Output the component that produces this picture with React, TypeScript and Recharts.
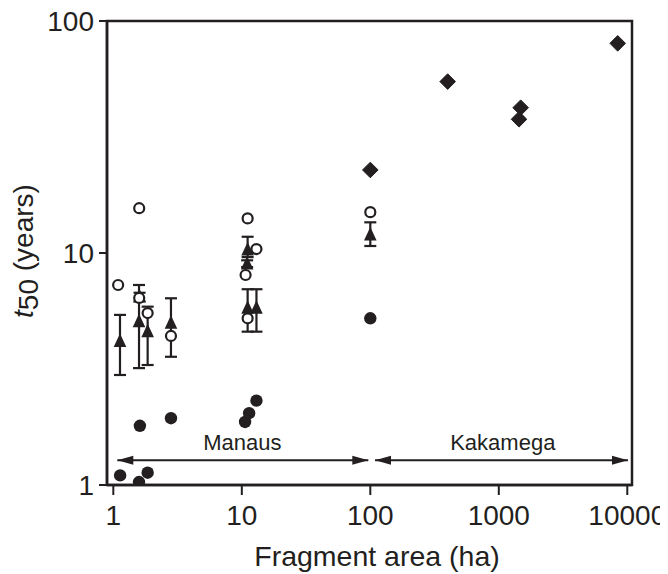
import React from 'react';
import { ScatterChart, Scatter, XAxis, YAxis, ErrorBar, ReferenceArea } from 'recharts';

const INK = '#231f20';
const FONT = '"Liberation Sans", Arial, Helvetica, sans-serif';

const xTicks = [1, 10, 100, 1000, 10000];
const yTicks = [1, 10, 100];
const xDomain = [0.893, 10880];
const yDomain = [1, 100];

// Open circles (x = fragment area ha, y = t50 years)
const openCircles = [
  { x: 1.09, y: 7.28 },
  { x: 1.59, y: 15.6 },
  { x: 1.59, y: 6.4 },
  { x: 1.85, y: 5.51 },
  { x: 2.81, y: 4.39 },
  { x: 11.1, y: 14.1 },
  { x: 13.0, y: 10.4 },
  { x: 10.7, y: 8.04 },
  { x: 11.1, y: 5.23 },
  { x: 100, y: 15.0 },
];

// Filled circles
const filledCircles = [
  { x: 1.13, y: 1.1 },
  { x: 1.585, y: 1.03 },
  { x: 1.85, y: 1.13 },
  { x: 1.61, y: 1.8 },
  { x: 2.81, y: 1.94 },
  { x: 10.6, y: 1.87 },
  { x: 11.4, y: 2.04 },
  { x: 13.0, y: 2.31 },
  { x: 100, y: 5.23 },
];

// Triangles with error bars: mean, lower, upper
const triX = [1.127, 1.585, 1.6, 1.85, 2.81, 11.1, 11.0, 11.1, 13.0, 100];
const triMean = [4.15, 5.06, 6.46, 4.58, 4.98, 10.3, 8.97, 5.78, 5.78, 11.96];
const triLow = [2.98, 3.19, 6.2, 3.29, 3.57, 9.6, 8.7, 4.58, 4.58, 10.72];
const triHigh = [5.41, 7.28, 6.74, 5.87, 6.38, 11.75, 9.3, 6.98, 6.98, 13.56];

// Kakamega diamonds
const diamonds = [
  { x: 100, y: 22.8 },
  { x: 400, y: 54.8 },
  { x: 1480, y: 42.3 },
  { x: 1437, y: 37.7 },
  { x: 8420, y: 80.1 },
];

// Region arrows and labels
const manausArrow = [
  { x: 1.074, y: 1.28, dir: 'left' },
  { x: 96.5, y: 1.28, dir: 'right' },
];
const kakamegaArrow = [
  { x: 108.8, y: 1.28, dir: 'left' },
  { x: 10125, y: 1.28, dir: 'right' },
];
const regionLabels = [
  { x: 10.1, y: 1.416, label: 'Manaus' },
  { x: 1074, y: 1.416, label: 'Kakamega' },
];

const triangles = triX.map((x, i) => ({
  x,
  y: triMean[i],
  err: [triMean[i] - triLow[i], triHigh[i] - triMean[i]],
}));

const OpenCircle = (p: any) => (
  <circle cx={p.cx} cy={p.cy} r={5} fill="#fff" stroke={INK} strokeWidth={2.2} />
);
const FilledCircle = (p: any) => <circle cx={p.cx} cy={p.cy} r={6.2} fill={INK} />;
const Triangle = (p: any) => (
  <polygon
    points={`${p.cx},${p.cy - 8} ${p.cx - 6.3},${p.cy + 5.5} ${p.cx + 6.3},${p.cy + 5.5}`}
    fill={INK}
  />
);
const Diamond = (p: any) => (
  <polygon
    points={`${p.cx},${p.cy - 7.8} ${p.cx + 7.8},${p.cy} ${p.cx},${p.cy + 7.8} ${p.cx - 7.8},${p.cy}`}
    fill={INK}
    stroke={INK}
    strokeWidth={1}
    strokeLinejoin="round"
  />
);
const ArrowHead = (p: any) => {
  const d = p.payload && p.payload.dir === 'left' ? 1 : -1;
  return (
    <polygon
      points={`${p.cx},${p.cy} ${p.cx + d * 16},${p.cy - 4.5} ${p.cx + d * 16},${p.cy + 4.5}`}
      fill={INK}
    />
  );
};
const RegionText = (p: any) => (
  <text x={p.cx} y={p.cy} textAnchor="middle" fontFamily={FONT} fontSize={22} fill={INK}>
    {p.payload ? p.payload.label : ''}
  </text>
);

const YLabel = () => (
  <text
    x={33}
    y={251}
    transform="rotate(-90, 33, 251)"
    textAnchor="middle"
    fontFamily={FONT}
    fontSize={28}
    fill={INK}
  >
    <tspan fontStyle="italic">t</tspan>
    <tspan dy={5}>50</tspan>
    <tspan dy={-5}>{' (years)'}</tspan>
  </text>
);

const XLabel = () => (
  <text x={377} y={566} textAnchor="middle" fontFamily={FONT} fontSize={28.5} fill={INK}>
    Fragment area (ha)
  </text>
);

export default function App() {
  return (
    <div style={{ margin: '-8px 0 0 -8px', width: 668, height: 574 }}>
      <ScatterChart width={668} height={574} margin={{ top: 21, right: 36, left: 0, bottom: 0 }}>
        <XAxis
          type="number"
          dataKey="x"
          scale="log"
          domain={xDomain}
          allowDataOverflow
          ticks={xTicks}
          interval={0}
          height={89}
          tickSize={10}
          tickMargin={10}
          axisLine={{ stroke: INK, strokeWidth: 2.5 }}
          tickLine={{ stroke: INK, strokeWidth: 2 }}
          tick={{ fill: INK, fontSize: 28, fontFamily: FONT }}
          label={<XLabel />}
        />
        <YAxis
          type="number"
          dataKey="y"
          scale="log"
          domain={yDomain}
          allowDataOverflow
          ticks={yTicks}
          interval={0}
          width={107}
          tickSize={8}
          tickMargin={5}
          axisLine={{ stroke: INK, strokeWidth: 2.5 }}
          tickLine={{ stroke: INK, strokeWidth: 2 }}
          tick={{ fill: INK, fontSize: 28, fontFamily: FONT }}
          label={<YLabel />}
        />
        <ReferenceArea
          x1={xDomain[0]}
          x2={xDomain[1]}
          y1={yDomain[0]}
          y2={yDomain[1]}
          fill="none"
          fillOpacity={0}
          stroke={INK}
          strokeWidth={2.5}
          ifOverflow="visible"
        />
        <Scatter
          data={manausArrow}
          shape={ArrowHead}
          line={{ stroke: INK, strokeWidth: 2 }}
          isAnimationActive={false}
        />
        <Scatter
          data={kakamegaArrow}
          shape={ArrowHead}
          line={{ stroke: INK, strokeWidth: 2 }}
          isAnimationActive={false}
        />
        <Scatter data={regionLabels} shape={RegionText} isAnimationActive={false} />
        <Scatter data={filledCircles} shape={FilledCircle} isAnimationActive={false} />
        <Scatter data={triangles} shape={Triangle} isAnimationActive={false}>
          <ErrorBar dataKey="err" direction="y" width={6} stroke={INK} strokeWidth={2.2} />
        </Scatter>
        <Scatter data={openCircles} shape={OpenCircle} isAnimationActive={false} />
        <Scatter data={diamonds} shape={Diamond} isAnimationActive={false} />
      </ScatterChart>
    </div>
  );
}
